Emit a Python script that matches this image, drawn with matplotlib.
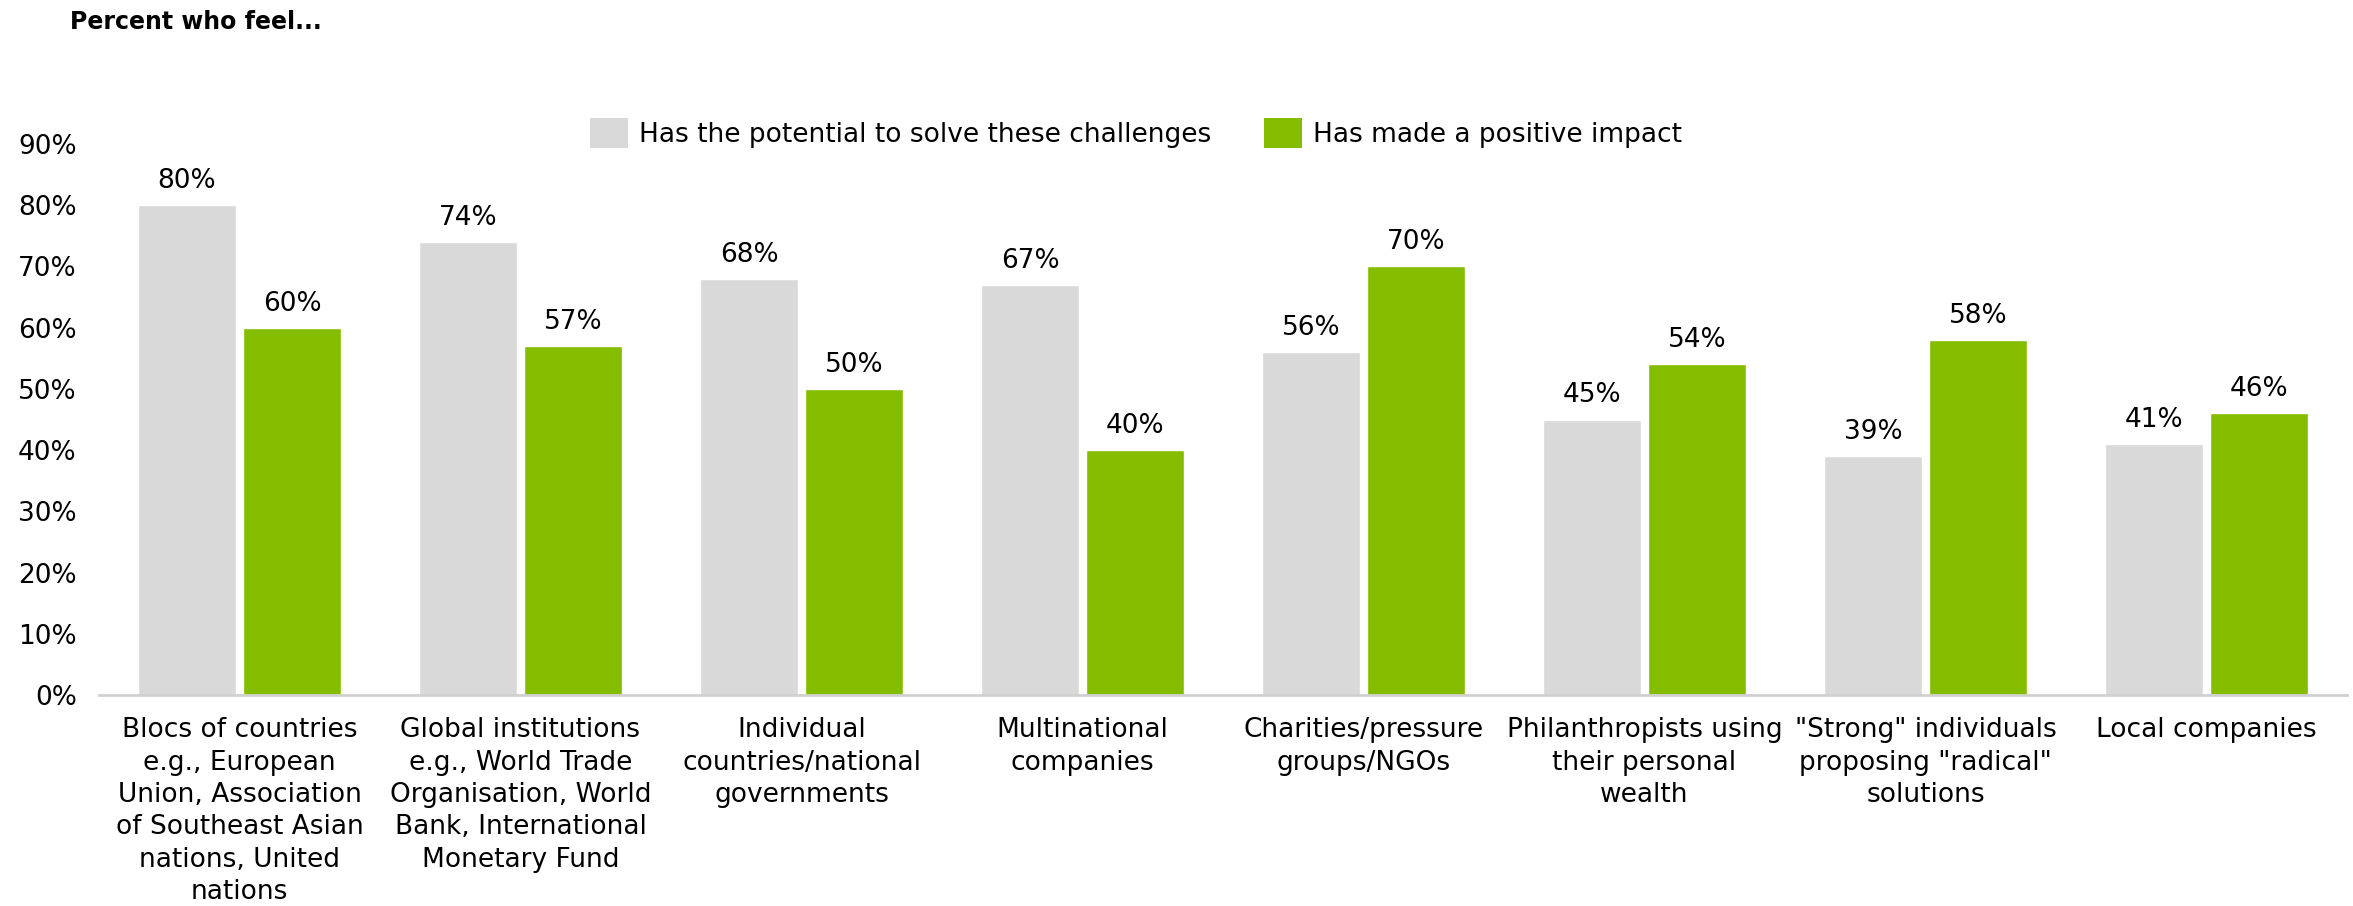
import matplotlib.pyplot as plt
import numpy as np
from matplotlib.patches import Patch

# Data
categories = [
    "Blocs of countries\ne.g., European\nUnion, Association\nof Southeast Asian\nnations, United\nnations",
    "Global institutions\ne.g., World Trade\nOrganisation, World\nBank, International\nMonetary Fund",
    "Individual\ncountries/national\ngovernments",
    "Multinational\ncompanies",
    "Charities/pressure\ngroups/NGOs",
    "Philanthropists using\ntheir personal\nwealth",
    "\"Strong\" individuals\nproposing \"radical\"\nsolutions",
    "Local companies",
]
potential = [80, 74, 68, 67, 56, 45, 39, 41]
impact = [60, 57, 50, 40, 70, 54, 58, 46]
series_names = ["Has the potential to solve these challenges", "Has made a positive impact"]
yticks = [0, 10, 20, 30, 40, 50, 60, 70, 80, 90]

gray = '#D9D9D9'
green = '#84BD00'
fs = 19

fig = plt.figure(figsize=(23.53, 9.06), dpi=100)
ax = fig.add_axes([99/2353, 1 - 695/906, (2347 - 99)/2353, (695 - 144)/906])

x = np.arange(len(categories))
w = 0.35
off = 0.187
b1 = ax.bar(x - off, potential, w, color=gray, edgecolor='white', linewidth=1)
b2 = ax.bar(x + off, impact, w, color=green, edgecolor='white', linewidth=1)

for bars, vals in ((b1, potential), (b2, impact)):
    for rect, v in zip(bars, vals):
        ax.annotate(f"{v}%", (rect.get_x() + rect.get_width()/2, v),
                    xytext=(0, 8), textcoords='offset points',
                    ha='center', va='bottom', fontsize=fs)

ax.set_xlim(-0.5, len(categories) - 0.5)
ax.set_ylim(0, 90)
ax.set_yticks(yticks)
ax.set_yticklabels([f"{t}%" for t in yticks], fontsize=fs)
ax.set_xticks(x)
ax.set_xticklabels(categories, fontsize=fs, linespacing=1.32, va='top')
ax.tick_params(axis='y', length=0, pad=16)
ax.tick_params(axis='x', length=0, pad=16)
for s in ['top', 'right', 'left']:
    ax.spines[s].set_visible(False)
ax.spines['bottom'].set_color('#D0D0D0')
ax.spines['bottom'].set_linewidth(2)

fig.text(70/2353, 1 - 22/906, "Percent who feel...", fontsize=17,
         fontweight='bold', ha='left', va='center')

handles = [Patch(facecolor=gray), Patch(facecolor=green)]
fig.legend(handles, series_names, loc='center', bbox_to_anchor=(1136/2353, 1 - 133/906),
           ncol=2, frameon=False, fontsize=fs, handlelength=1.45, handleheight=1.4,
           handletextpad=0.4, columnspacing=2.0)

fig.savefig("out.png", dpi=100, facecolor='white')
